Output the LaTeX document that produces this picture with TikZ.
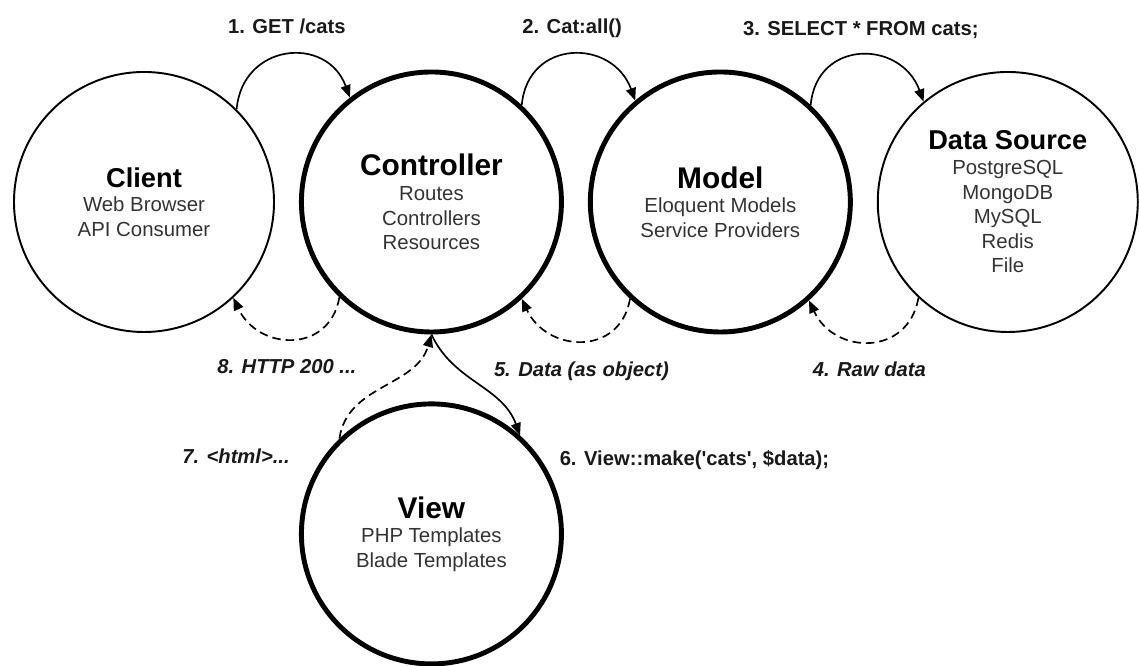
\documentclass[tikz,border=0pt]{standalone}
\usepackage{fontspec}
\setmainfont{Liberation Sans}
\usetikzlibrary{positioning,arrows.meta}

\newcommand{\parttitle}[2]{{\color{black}\bfseries\fontsize{#1}{18}\selectfont #2}}

\begin{document}
\begin{tikzpicture}[node distance=0.48cm,
  part/.style={circle,draw,minimum size=5.2cm,align=center,text=black!80,
               font=\fontsize{11.6}{14}\selectfont},
  light/.style={part,line width=1.1pt},
  heavy/.style={part,line width=2.8pt},
  call/.style={-{Triangle[length=0.25cm,width=0.2cm]},line width=0.95pt},
  reply/.style={call,dash pattern=on 0.17cm off 0.1cm},
  msg/.style={text=black!90,font=\bfseries\fontsize{11.5}{14}\selectfont},
  ret/.style={text=black!90,font=\bfseries\itshape\fontsize{11.5}{14}\selectfont}]
\useasboundingbox (0,0) rectangle (22.78,13.32);

\node[light] (client) at (2.88,9.28) {\parttitle{15.5}{Client}\\Web Browser\\API Consumer};
\node[heavy] (ctrl)   [right=of client] {\parttitle{17}{Controller}\\Routes\\Controllers\\Resources};
\node[heavy] (model)  [right=of ctrl]   {\parttitle{17}{Model}\\Eloquent Models\\Service Providers};
\node[light] (data)   [right=of model]  {\parttitle{15.5}{Data Source}\\PostgreSQL\\MongoDB\\MySQL\\Redis\\File};
\node[heavy] (view)   [below=1.34cm of ctrl] {\parttitle{17}{View}\\PHP Templates\\Blade Templates};

\draw[call] (client.45) to[out=85,in=110,looseness=1.5] node[msg,above=0.2cm,yshift=0.08cm] (get) {1. GET /cats} (ctrl.128);
\draw[call] (ctrl.47) to[out=85,in=110,looseness=1.5] node[msg,above=0.2cm] (all) {2. Cat:all()} (model.130);
\draw[call] (model.47) to[out=85,in=110,looseness=1.5] node[msg,above=0.2cm] (select) {3. SELECT * FROM cats;} (data.130);
\draw[reply] (data.227) to[out=-100,in=-65,looseness=1.4] node[ret,below=0.28cm] (raw) {4. Raw data} (model.-48);
\draw[reply] (model.227) to[out=-100,in=-65,looseness=1.4] node[ret,below=0.28cm] (obj) {5. Data (as object)} (ctrl.-47);
\draw[call] (ctrl.south) to[out=-65,in=110] node[msg,pos=1,anchor=west,xshift=0.66cm,yshift=-0.5cm] (make) {6. View::make(\textquotesingle cats\textquotesingle, \$data);} (view.48);
\draw[reply] (view.134) to[out=82,in=-106] node[ret,pos=0,anchor=east,xshift=-0.86cm,yshift=-0.36cm] (html) {7. <html>...} (ctrl.south);
\draw[reply] (ctrl.226) to[out=-100,in=-65,looseness=1.4] node[ret,below=0.28cm,xshift=-0.1cm] (http) {8. HTTP 200 ...} (client.-47);
\end{tikzpicture}
\end{document}
